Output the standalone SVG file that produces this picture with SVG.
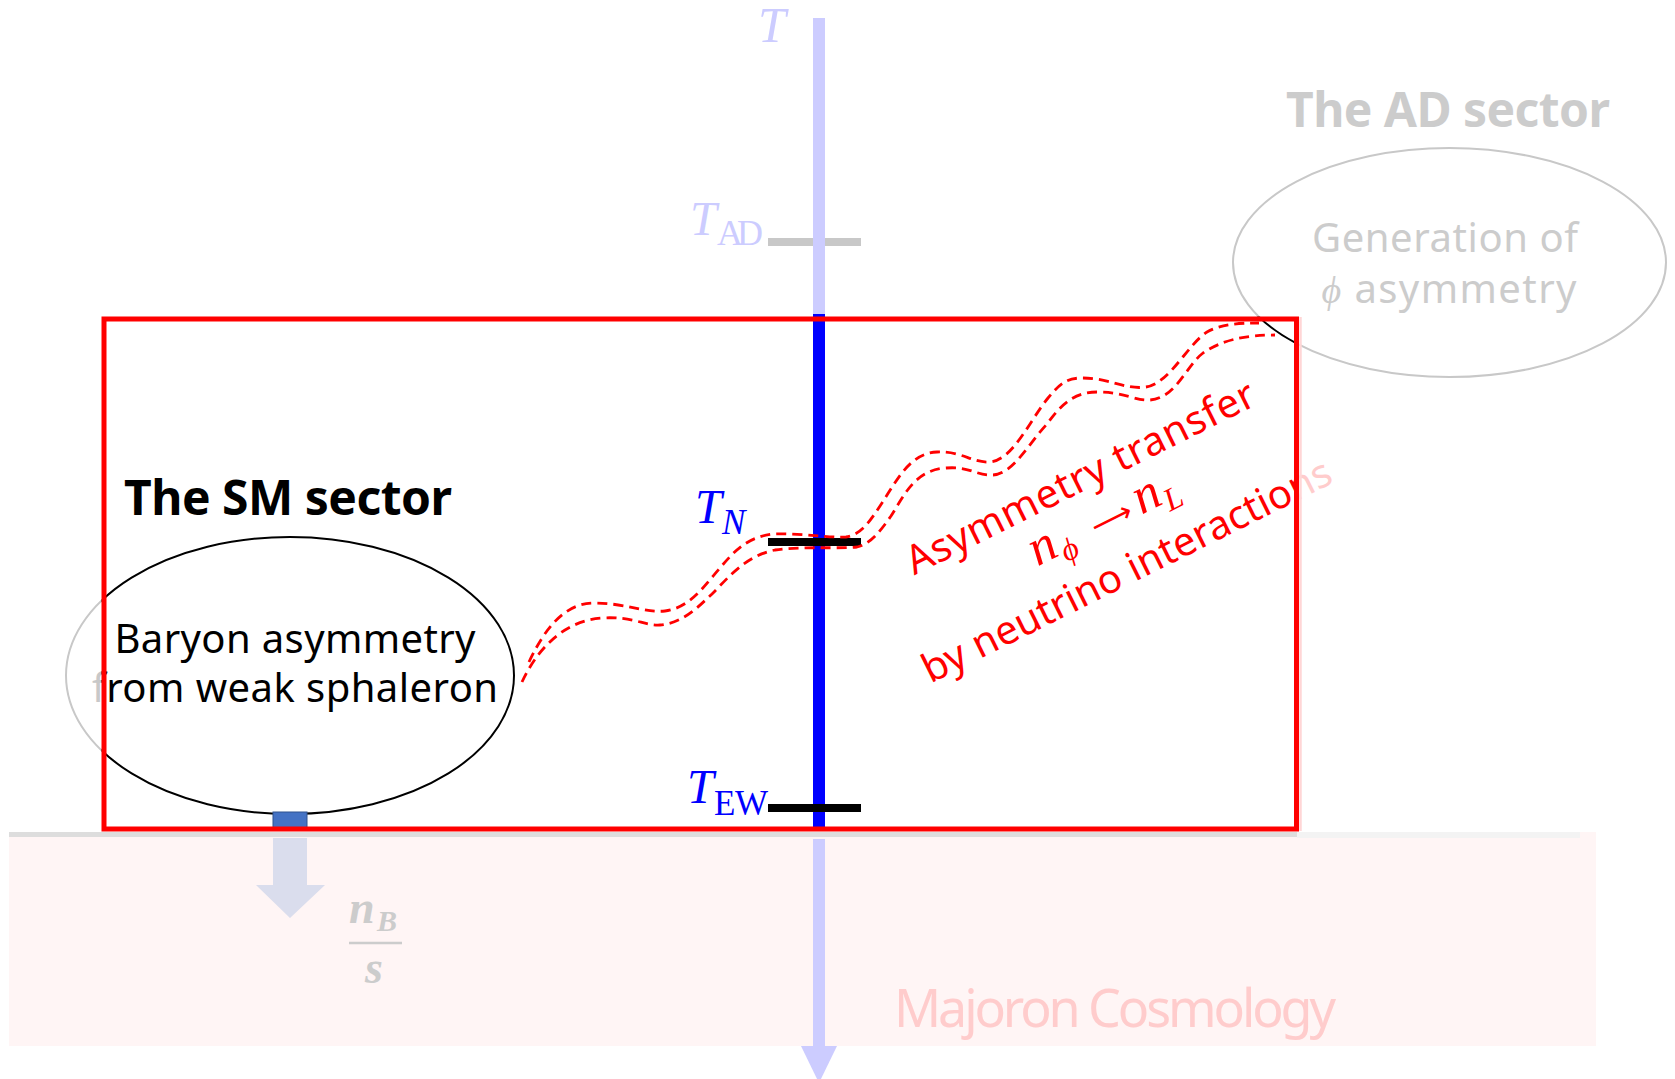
<svg xmlns="http://www.w3.org/2000/svg" width="1675" height="1079" viewBox="0 0 1675 1079">
<defs>
<style>
.sans{font-family:"Noto Sans","Open Sans","DejaVu Sans",sans-serif}
.math{font-family:"Liberation Serif","DejaVu Serif",serif;font-style:italic}
.up{font-style:normal}
.dash{fill:none;stroke:#ff0000;stroke-width:2.8;stroke-dasharray:10 6}
</style>
<clipPath id="in"><rect x="101.5" y="316.5" width="1197.5" height="515"/></clipPath>
<clipPath id="out"><path clip-rule="evenodd" d="M0,0H1675V1079H0Z M101.5,316.5V831.5H1299V316.5Z"/></clipPath>
<g id="sm-body">
<ellipse cx="290" cy="675.5" rx="224" ry="138.5" fill="none" stroke="currentColor" stroke-width="2"/>
<text class="sans" x="295" y="653" font-size="40" text-anchor="middle" fill="currentColor" textLength="361">Baryon asymmetry</text>
<text class="sans" x="295" y="702" font-size="40" text-anchor="middle" fill="currentColor" textLength="406">from weak sphaleron</text>
</g>
<g id="ad-body">
<ellipse cx="1449.5" cy="262.5" rx="216.5" ry="114.5" fill="none" stroke="currentColor" stroke-width="2"/>
</g>
<g id="transfer-body" transform="translate(1111,530) rotate(-26.5)" fill="currentColor">
<text class="sans" x="-4" y="-47" font-size="40" text-anchor="middle" textLength="385">Asymmetry transfer</text>
<text class="math" font-size="52"><tspan x="-82" y="0">n</tspan><tspan x="-54" y="9" font-size="32">ϕ</tspan><tspan class="up" x="-16" y="0" font-family="DejaVu Sans" font-size="30" textLength="38">⟶</tspan><tspan x="34" y="0">n</tspan><tspan x="61" y="10" font-size="32">L</tspan></text>
<text class="sans" x="-4" y="57" font-size="40" text-anchor="middle" textLength="452">by neutrino interactions</text>
</g>
</defs>
<rect width="1675" height="1079" fill="#ffffff"/>

<g id="majoron-cosmology">
<rect x="9" y="832" width="1587" height="214" fill="#fff5f5"/>
<rect x="9" y="832" width="1288" height="5" fill="#dddddd"/>
<rect x="1297" y="832" width="283" height="6" fill="#f3f3f3"/>
<text class="sans" x="894" y="1027" font-size="52" fill="#ffcccc" textLength="442">Majoron Cosmology</text>
</g>

<g id="tick-ad">
<rect x="768" y="238" width="93" height="8" fill="#c8c8c8"/>
<text class="math" x="690" y="235" font-size="48" fill="#ccccff">T</text>
<text class="math up" x="717" y="245" font-size="36" fill="#ccccff" textLength="46">AD</text>
</g>

<g id="temperature-axis">
<rect x="813" y="18" width="12" height="298" fill="#ccccff"/>
<rect x="813" y="314" width="12" height="514" fill="#0000ff"/>
<rect x="813" y="839" width="12" height="208" fill="#ccccff"/>
<polygon points="801,1046 837,1046 819,1083" fill="#ccccff"/>
<text class="math" x="758" y="42" font-size="50" fill="#ccccff">T</text>
</g>

<g id="tick-n">
<rect x="768" y="538" width="93" height="8" fill="#000000"/>
<text class="math" x="695" y="523" font-size="48" fill="#0000ff">T</text>
<text class="math" x="722" y="534" font-size="35" fill="#0000ff">N</text>
</g>

<g id="tick-ew">
<rect x="768" y="804" width="93" height="8" fill="#000000"/>
<text class="math" x="687" y="803" font-size="48" fill="#0000ff">T</text>
<text class="math up" x="714" y="815" font-size="35" fill="#0000ff" textLength="54">EW</text>
</g>

<g id="sm-sector">
<text class="sans" x="124" y="515" font-size="48" font-weight="bold" fill="#000000" textLength="328">The SM sector</text>
<use href="#sm-body" color="#c8c8c8" clip-path="url(#out)"/>
<use href="#sm-body" color="#000000" clip-path="url(#in)"/>
</g>

<g id="ad-sector">
<text class="sans" x="1286" y="127" font-size="48" font-weight="bold" fill="#cccccc" textLength="324">The AD sector</text>
<use href="#ad-body" color="#c8c8c8" clip-path="url(#out)"/>
<use href="#ad-body" color="#000000" clip-path="url(#in)"/>
<text class="sans" x="1445" y="252" font-size="40" text-anchor="middle" fill="#cccccc" textLength="266">Generation of</text>
<text class="sans" x="1449" y="303" font-size="40" text-anchor="middle" fill="#cccccc" textLength="255"><tspan class="math" font-size="38">ϕ</tspan> asymmetry</text>
</g>

<g id="nb-over-s">
<text class="math" x="349" y="923" font-size="46" font-weight="bold" fill="#cccccc">n</text>
<text class="math" x="377" y="931" font-size="30" font-weight="bold" fill="#cccccc">B</text>
<line x1="349" y1="943" x2="402" y2="943" stroke="#cccccc" stroke-width="2.5"/>
<text class="math" x="365" y="983" font-size="46" font-weight="bold" fill="#cccccc">s</text>
</g>

<g id="connectors">
<path class="dash" d="M529,662 C545,628 565,603 594,603 C625,603 645,613 665,611 C690,608 705,585 720,568 C735,550 748,537 773,534 C800,533 830,538 846,537 C862,535 872,518 882,503 C897,480 910,453 937,452 C962,451 972,463 990,462 C1013,460 1030,420 1048,398 C1060,384 1066,378 1082,378 C1110,378 1125,390 1146,387 C1170,383 1187,345 1207,332 C1222,324 1238,323 1259,323"/>
<path class="dash" d="M522,682 C533,658 558,621 602,618 C632,616 645,626 660,625 C683,623 698,607 712,594 C728,578 745,556 775,550 C802,546 840,549 857,547 C871,544 881,530 891,516 C905,494 915,470 946,468 C970,466 976,476 993,475 C1013,474 1030,442 1047,424 C1060,406 1073,392 1097,392 C1125,392 1135,401 1150,400 C1176,398 1186,366 1203,353 C1222,340 1245,335 1275,335"/>
<rect x="273" y="812" width="34" height="16" fill="#4472c4" stroke="#2f528f" stroke-width="1"/>
<polygon points="273,838 307,838 307,885 325,885 290,918 256,885 273,885" fill="#dadded"/>
</g>

<g id="transfer-label">
<use href="#transfer-body" color="#ffcccc" clip-path="url(#out)"/>
<use href="#transfer-body" color="#ff0000" clip-path="url(#in)"/>
</g>

<g id="sm-frame">
<line x1="1300.5" y1="317" x2="1300.5" y2="831" stroke="#ffd6d6" stroke-width="2.5"/>
<rect x="104" y="319" width="1192.5" height="510" fill="none" stroke="#ff0000" stroke-width="5"/>
</g>
</svg>
